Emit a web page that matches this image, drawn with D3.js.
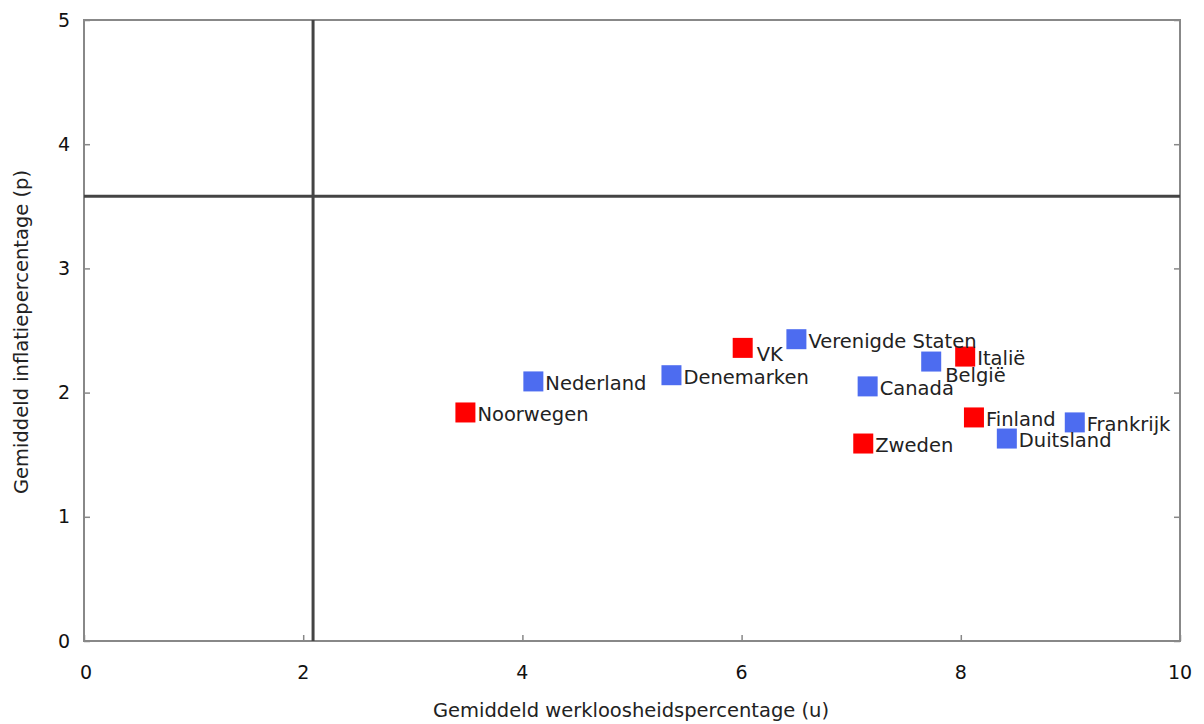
<!DOCTYPE html>
<html><head><meta charset="utf-8">
<script src="https://cdn.jsdelivr.net/npm/d3@7"></script>
<style>body{margin:0;background:#fff}svg{display:block}</style>
</head><body>
<script>
const countries = ["Noorwegen","Nederland","Denemarken","VK","Verenigde Staten","België","Italië","Canada","Finland","Frankrijk","Duitsland","Zweden"];
const unemployment = [3.48,4.10,5.36,6.01,6.50,7.73,8.04,7.15,8.12,9.04,8.42,7.11];
const inflation = [1.84,2.09,2.14,2.36,2.43,2.25,2.29,2.05,1.80,1.76,1.63,1.59];
const group = ["r","b","b","r","b","b","r","b","r","b","b","r"];
const xTicks = [0,2,4,6,8,10];
const yTicks = [0,1,2,3,4,5];
const refX = 2.09, refY = 3.58;
const xTitle = "Gemiddeld werkloosheidspercentage (u)";
const yTitle = "Gemiddeld inflatiepercentage (p)";

const W=1204,H=724;
const m={l:84,t:20,r:1180,b:641};
const font="Tahoma, 'DejaVu Sans', Verdana, sans-serif";
const svg=d3.select("body").append("svg").attr("width",W).attr("height",H);
const x=d3.scaleLinear().domain([0,10]).range([m.l,m.r]);
const y=d3.scaleLinear().domain([0,5]).range([m.b,m.t]);
const colors={r:"#ff0000",b:"#4d6cf0"};
const labelShift={"VK":[14,6],"België":[14,14]};

// frame
svg.append("rect").attr("x",m.l).attr("y",m.t).attr("width",m.r-m.l).attr("height",m.b-m.t)
  .attr("fill","none").attr("stroke","#888").attr("stroke-width",2);

// inward ticks
const tk=6;
svg.append("g").attr("transform",`translate(${m.l},0)`).call(d3.axisLeft(y).tickValues(yTicks).tickSize(-tk).tickFormat(""))
  .call(g=>{g.select(".domain").remove();g.selectAll("line").attr("stroke","#888").attr("stroke-width",1.5);});
svg.append("g").attr("transform",`translate(${m.r},0)`).call(d3.axisRight(y).tickValues(yTicks).tickSize(-tk).tickFormat(""))
  .call(g=>{g.select(".domain").remove();g.selectAll("line").attr("stroke","#888").attr("stroke-width",1.5);});
svg.append("g").attr("transform",`translate(0,${m.b})`).call(d3.axisBottom(x).tickValues(xTicks).tickSize(-tk).tickFormat(""))
  .call(g=>{g.select(".domain").remove();g.selectAll("line").attr("stroke","#888").attr("stroke-width",1.5);});

// tick labels
svg.append("g").selectAll("text").data(yTicks).join("text")
  .attr("x",m.l-14).attr("y",d=>y(d)).attr("dy","0.35em").attr("text-anchor","end")
  .attr("font-family",font).attr("font-size",19).attr("fill","#111").text(d=>d);
svg.append("g").selectAll("text").data(xTicks).join("text")
  .attr("x",d=>x(d)+(d===0?2:0)).attr("y",m.b+31).attr("dy","0.35em").attr("text-anchor","middle")
  .attr("font-family",font).attr("font-size",19).attr("fill","#111").text(d=>d);

// reference lines
svg.append("line").attr("x1",x(refX)).attr("x2",x(refX)).attr("y1",m.t).attr("y2",m.b)
  .attr("stroke","#444").attr("stroke-width",3);
svg.append("line").attr("x1",m.l).attr("x2",m.r).attr("y1",y(refY)).attr("y2",y(refY))
  .attr("stroke","#444").attr("stroke-width",3);

// points
const data=countries.map((c,i)=>({c,u:unemployment[i],p:inflation[i],g:group[i]}));
const s=20;
svg.append("g").selectAll("rect").data(data).join("rect")
  .attr("x",d=>x(d.u)-s/2).attr("y",d=>y(d.p)-s/2).attr("width",s).attr("height",s)
  .attr("fill",d=>colors[d.g]);
svg.append("g").selectAll("text").data(data).join("text")
  .attr("x",d=>x(d.u)+(labelShift[d.c]||[12,2])[0]).attr("y",d=>y(d.p)+(labelShift[d.c]||[12,2])[1])
  .attr("dy","0.35em").attr("font-family",font).attr("font-size",19.5).attr("fill","#222").text(d=>d.c);

// titles
svg.append("text").attr("x",631).attr("y",717).attr("text-anchor","middle")
  .attr("font-family",font).attr("font-size",19.5).attr("fill","#222").text(xTitle);
svg.append("text").attr("transform","translate(28,332) rotate(-90)").attr("text-anchor","middle")
  .attr("font-family",font).attr("font-size",19.5).attr("fill","#222").text(yTitle);
</script>
</body></html>
